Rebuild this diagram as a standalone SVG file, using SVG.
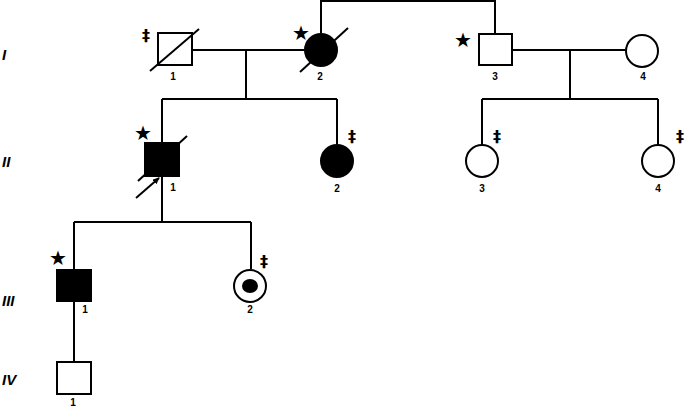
<svg xmlns="http://www.w3.org/2000/svg" width="685" height="407" viewBox="0 0 685 407">
<defs>
<style>
.l{stroke:#000;stroke-width:2;fill:none}
.o{stroke:#000;stroke-width:2;fill:#fff}
.f{stroke:#000;stroke-width:2;fill:#000}
.n{font-family:"Liberation Sans",Arial,sans-serif;font-size:10px;font-weight:bold;text-anchor:middle}
.g{font-family:"Liberation Sans",Arial,sans-serif;font-size:15px;font-weight:bold;font-style:italic}
.d{font-family:"DejaVu Sans",sans-serif;font-size:16px;font-weight:bold;text-anchor:middle;fill:#000}
.s{font-family:"DejaVu Sans",sans-serif;font-size:20px;text-anchor:middle}
</style>
<marker id="ar" markerUnits="userSpaceOnUse" markerWidth="7" markerHeight="6" refX="6" refY="3" orient="auto"><path d="M0,0 L7,3 L0,6 z"/></marker>
</defs>
<g id="connectors">
<path class="l" d="M192,50 H304 M246,50 V99 M162,99 H337 M162,99 V143 M337,99 V145"/>
<path class="l" d="M321,33 V1 H495 V34"/>
<path class="l" d="M512,50 H626 M570,50 V99 M482,99 H658 M482,99 V145 M658,99 V145"/>
<path class="l" d="M162,176 V222 M74,222 H251 M74,222 V270 M251,222 V269"/>
<path class="l" d="M74,301 V362"/>
</g>
<g id="I-1"><rect class="o" x="158" y="33" width="34" height="32"/><line class="l" x1="150" y1="71" x2="199" y2="29"/><text class="d" x="146" y="41">‡</text><text class="n" x="173" y="80">1</text></g>
<g id="I-2"><circle class="f" cx="321" cy="50" r="16"/><line class="l" x1="300" y1="72" x2="348" y2="28"/><text class="s" x="301" y="40">★</text><text class="n" x="320" y="80">2</text></g>
<g id="I-3"><rect class="o" x="479" y="34" width="33" height="31"/><text class="s" x="463" y="47">★</text><text class="n" x="495" y="80">3</text></g>
<g id="I-4"><circle class="o" cx="642" cy="51" r="16"/><text class="n" x="643" y="80">4</text></g>
<g id="II-1"><rect class="f" x="145" y="143" width="34" height="33"/><line class="l" x1="138" y1="181" x2="187" y2="136"/><line class="l" x1="136" y1="198" x2="159" y2="178" marker-end="url(#ar)"/><text class="s" x="143" y="140">★</text><text class="n" x="173" y="191">1</text></g>
<g id="II-2"><circle class="f" cx="337" cy="161" r="16"/><text class="d" x="352" y="142">‡</text><text class="n" x="337" y="192">2</text></g>
<g id="II-3"><circle class="o" cx="482" cy="161" r="16"/><text class="d" x="497" y="142">‡</text><text class="n" x="482" y="192">3</text></g>
<g id="II-4"><circle class="o" cx="658" cy="161" r="16"/><text class="d" x="680" y="142">‡</text><text class="n" x="658" y="192">4</text></g>
<g id="III-1"><rect class="f" x="57" y="270" width="34" height="31"/><text class="s" x="58" y="265">★</text><text class="n" x="85" y="313">1</text></g>
<g id="III-2"><circle class="o" cx="250" cy="286" r="16"/><ellipse cx="250" cy="286" rx="8" ry="7"/><text class="d" x="264" y="267">‡</text><text class="n" x="250" y="313">2</text></g>
<g id="IV-1"><rect class="o" x="57" y="362" width="34" height="32"/><text class="n" x="73" y="406">1</text></g>
<g id="gens"><text class="g" x="2" y="60">I</text><text class="g" x="2" y="167">II</text><text class="g" x="2" y="306">III</text><text class="g" x="2" y="385">IV</text></g>
</svg>
